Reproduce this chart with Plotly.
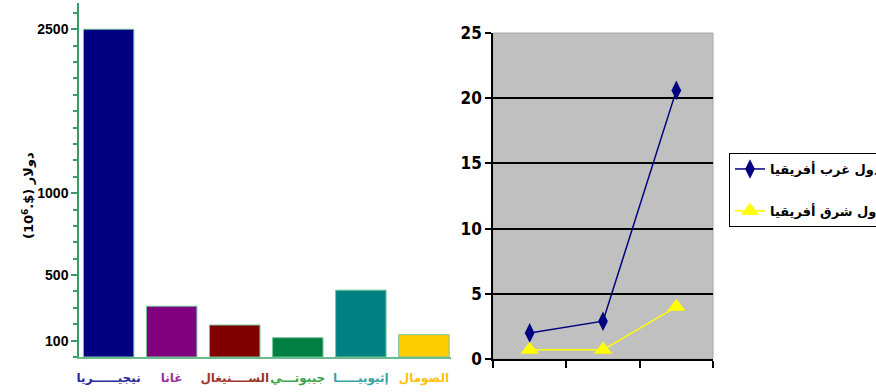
import plotly.graph_objects as go

# ---------------- data ----------------
countries = ["نيجيــــــريا", "غانا", "الســــنيغال", "جيبوتـــي", "إثيوبيـــــا", "الصومال"]
values_musd = [2500, 310, 195, 118, 408, 136]          # 10^6 $
bar_colors = ["#000080", "#800080", "#800000", "#008040", "#008080", "#FFCC00"]
label_colors = ["#28289A", "#9A2E9A", "#A0342A", "#3EA24A", "#38A3A3", "#FFC20E"]

y_tick_labels = [100, 500, 1000, 2500]

periods = ["1", "2", "3"]
west_africa = [2.0, 2.9, 20.6]
east_africa = [0.7, 0.7, 4.0]
series_names = ["دول غرب أفريقيا", "دول شرق أفريقيا"]
right_ticks = [0, 5, 10, 15, 20, 25]

# The left axis of the original is broken: 100 per tick up to 1000,
# then 150 per tick up to 2500.
BREAK = 1000
ABOVE_RATIO = 100 / 150


def compress(v):
    return v if v <= BREAK else BREAK + (v - BREAK) * ABOVE_RATIO


W, H = 876, 392
AX_GREEN = "#3A9A68"

fig = go.Figure()

fig.add_trace(go.Bar(
    x=list(range(len(countries))),
    y=[compress(v) for v in values_musd],
    customdata=values_musd,
    hovertemplate="%{customdata}<extra></extra>",
    marker=dict(color=bar_colors, line=dict(color="#78C49A", width=1)),
    width=0.8,
    showlegend=False,
    xaxis="x", yaxis="y",
))

fig.add_trace(go.Scatter(
    x=periods, y=west_africa, name=series_names[0],
    mode="lines+markers",
    line=dict(color="#000080", width=1.5),
    marker=dict(symbol="diamond-tall", size=14, color="#000080"),
    legendgroup="w",
    xaxis="x2", yaxis="y2",
))
fig.add_trace(go.Scatter(
    x=periods, y=east_africa, name=series_names[1],
    mode="lines+markers",
    line=dict(color="#FFFF00", width=1.5),
    marker=dict(symbol="triangle-up", size=16, color="#FFFF00"),
    legendgroup="e",
    xaxis="x2", yaxis="y2",
))

tick_text = [
    f'<b><span style="color:{c}">{n}</span></b>' for n, c in zip(countries, label_colors)
]

fig.update_layout(
    width=W, height=H,
    margin=dict(l=0, r=0, t=0, b=0, autoexpand=False),
    paper_bgcolor="white",
    plot_bgcolor="white",
    bargap=0.19,
    xaxis=dict(
        domain=[79 / W, 451 / W],
        range=[-0.47, 5.43],
        tickmode="array",
        tickvals=list(range(len(countries))),
        ticktext=tick_text,
        tickfont=dict(family="DejaVu Sans", size=12),
        tickangle=0,
        ticks="",
        ticklabelstandoff=9,
        showline=True, linecolor="#6CBB8E", linewidth=1.5,
        showgrid=False, zeroline=False,
        anchor="y",
        automargin=False,
        fixedrange=True,
    ),
    yaxis=dict(
        domain=[1 - 357 / H, 1 - 3 / H],
        range=[0, 2160],
        tickmode="array",
        tickvals=[compress(v) for v in y_tick_labels],
        ticktext=[str(v) for v in y_tick_labels],
        tickfont=dict(family="Liberation Sans, Arial, sans-serif", size=14,
                      color="black", weight=700),
        ticks="outside", ticklen=6, tickcolor=AX_GREEN, tickwidth=1.5,
        minor=dict(ticks="outside", ticklen=4, tickcolor=AX_GREEN,
                   tickwidth=1.5, tick0=0, dtick=100, showgrid=False),
        showline=True, linecolor=AX_GREEN, linewidth=1.5,
        showgrid=False, zeroline=False,
        anchor="x",
        automargin=False,
        fixedrange=True,
    ),
    xaxis2=dict(
        domain=[493 / W, 713 / W],
        type="category",
        range=[-0.5, 2.5],
        showticklabels=False,
        ticks="outside", tickson="boundaries", ticklen=7,
        tickcolor="black", tickwidth=1.5,
        showline=True, linecolor="black", linewidth=2,
        showgrid=False, zeroline=False,
        anchor="y2",
        automargin=False,
        fixedrange=True,
    ),
    yaxis2=dict(
        domain=[1 - 359 / H, 1 - 33 / H],
        range=[0, 25],
        tickmode="array",
        tickvals=right_ticks,
        tickfont=dict(family="DejaVu Sans Condensed, Liberation Sans Narrow, sans-serif",
                      size=17, color="black", weight=700),
        ticks="outside", ticklen=6, tickcolor="black", tickwidth=1.5,
        showgrid=False,
        minor=dict(tickvals=right_ticks[1:-1], showgrid=True,
                   gridcolor="black", gridwidth=2, ticks=""),
        showline=True, linecolor="black", linewidth=1.5,
        zeroline=False,
        anchor="x2",
        automargin=False,
        fixedrange=True,
    ),
    shapes=[dict(
        type="rect", xref="x2 domain", yref="y2 domain",
        x0=0, x1=1, y0=0, y1=1,
        fillcolor="#C0C0C0", line=dict(color="#A8A8A8", width=1),
        layer="below",
    )],
    annotations=[dict(
        text="<b>(10<sup>6</sup>.$) دولار</b>",
        xref="paper", yref="paper",
        x=18 / W, y=1 - 196 / H,
        textangle=-90, showarrow=False,
        font=dict(family="DejaVu Sans", size=13, color="black"),
    )],
    showlegend=True,
    legend=dict(
        x=729 / W, y=1 - 153 / H, xanchor="left", yanchor="top",
        bgcolor="white", bordercolor="black", borderwidth=1,
        font=dict(family="DejaVu Sans", size=13, color="black", weight=700),
        traceorder="grouped", tracegroupgap=22,
        itemwidth=30,
    ),
)

fig.write_html("out.html")
